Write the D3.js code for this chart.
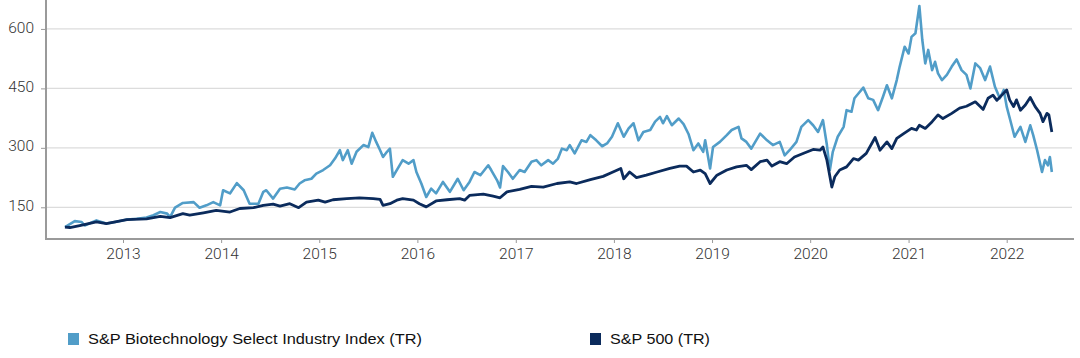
<!DOCTYPE html>
<html>
<head>
<meta charset="utf-8">
<script src="https://cdn.jsdelivr.net/npm/d3@7"></script>
<style>
  html, body { margin: 0; padding: 0; background: #ffffff; }
  svg { display: block; }
</style>
</head>
<body>
<svg id="chart" width="1080" height="358"></svg>
<script>
// ---- DATA (decimal years, index level, base 100) ----
const biotechTimes = [2012.41,2012.51,2012.58,2012.61,2012.73,2012.83,2012.92,2013.04,2013.14,2013.24,2013.31,2013.38,2013.45,2013.48,2013.53,2013.61,2013.72,2013.78,2013.85,2013.92,2013.99,2014.02,2014.09,2014.16,2014.23,2014.29,2014.38,2014.43,2014.46,2014.53,2014.60,2014.67,2014.75,2014.80,2014.85,2014.92,2014.97,2015.04,2015.11,2015.16,2015.21,2015.24,2015.29,2015.33,2015.38,2015.45,2015.50,2015.54,2015.58,2015.62,2015.65,2015.69,2015.72,2015.75,2015.79,2015.85,2015.91,2015.96,2015.99,2016.04,2016.09,2016.14,2016.19,2016.26,2016.33,2016.41,2016.47,2016.53,2016.58,2016.64,2016.72,2016.75,2016.81,2016.84,2016.87,2016.92,2016.97,2017.04,2017.09,2017.16,2017.21,2017.26,2017.33,2017.38,2017.43,2017.47,2017.52,2017.55,2017.60,2017.67,2017.72,2017.76,2017.82,2017.88,2017.93,2017.98,2018.04,2018.10,2018.15,2018.20,2018.25,2018.30,2018.37,2018.42,2018.47,2018.50,2018.54,2018.59,2018.66,2018.71,2018.76,2018.81,2018.86,2018.91,2018.93,2018.98,2019.01,2019.08,2019.15,2019.20,2019.27,2019.30,2019.35,2019.40,2019.49,2019.56,2019.62,2019.69,2019.74,2019.79,2019.86,2019.91,2019.98,2020.03,2020.08,2020.13,2020.17,2020.20,2020.23,2020.28,2020.34,2020.37,2020.42,2020.45,2020.49,2020.54,2020.59,2020.64,2020.69,2020.74,2020.78,2020.83,2020.88,2020.91,2020.96,2021.00,2021.03,2021.07,2021.11,2021.14,2021.17,2021.20,2021.24,2021.27,2021.30,2021.34,2021.39,2021.44,2021.49,2021.54,2021.59,2021.63,2021.68,2021.73,2021.78,2021.83,2021.88,2021.93,2021.97,2022.00,2022.05,2022.08,2022.14,2022.19,2022.24,2022.27,2022.31,2022.36,2022.39,2022.42,2022.44,2022.46];
const biotechValues = [100,115,113,104,117,109,113,119,121,124,130,138,134,125,149,161,163,149,155,163,155,193,185,211,193,159,159,189,193,172,197,200,195,210,218,222,235,244,256,273,294,269,294,260,290,307,302,338,315,294,277,290,298,227,244,269,260,269,239,210,176,197,185,214,189,222,193,214,239,231,256,244,218,200,254,239,222,244,239,265,269,256,269,260,273,298,294,307,286,319,315,332,319,304,311,328,362,328,349,362,319,340,345,366,378,362,380,357,374,360,335,294,311,290,319,248,302,315,332,345,353,324,315,298,336,319,307,315,281,294,315,353,370,357,340,370,307,244,290,328,353,395,391,425,437,452,425,421,395,429,458,425,471,505,555,538,580,589,658,572,513,547,496,517,488,471,484,505,523,496,484,450,513,501,471,505,454,425,446,404,357,328,353,315,357,332,294,239,269,256,277,239];

const spTimes = [2012.41,2012.46,2012.56,2012.73,2012.83,2013.04,2013.24,2013.38,2013.48,2013.61,2013.68,2013.82,2013.95,2014.09,2014.19,2014.33,2014.43,2014.53,2014.60,2014.70,2014.79,2014.87,2014.99,2015.06,2015.14,2015.28,2015.41,2015.55,2015.62,2015.65,2015.72,2015.79,2015.85,2015.96,2016.02,2016.09,2016.19,2016.30,2016.43,2016.48,2016.53,2016.67,2016.77,2016.84,2016.91,2017.04,2017.16,2017.28,2017.42,2017.55,2017.62,2017.76,2017.89,2017.99,2018.07,2018.10,2018.16,2018.23,2018.33,2018.44,2018.57,2018.67,2018.74,2018.81,2018.88,2018.93,2018.98,2019.05,2019.15,2019.25,2019.35,2019.40,2019.49,2019.56,2019.61,2019.69,2019.76,2019.84,2019.94,2020.03,2020.10,2020.13,2020.17,2020.22,2020.25,2020.30,2020.37,2020.44,2020.49,2020.57,2020.66,2020.71,2020.78,2020.83,2020.88,2020.95,2021.03,2021.08,2021.11,2021.17,2021.24,2021.30,2021.35,2021.44,2021.52,2021.59,2021.68,2021.73,2021.76,2021.81,2021.86,2021.90,2021.95,2022.00,2022.03,2022.07,2022.10,2022.14,2022.19,2022.24,2022.29,2022.34,2022.37,2022.41,2022.43,2022.46];
const spValues = [100,99,104,113,109,119,121,127,124,134,130,136,142,138,147,149,155,158,153,159,149,163,168,163,169,172,174,172,170,155,159,168,172,168,159,151,166,169,172,168,180,183,178,174,189,195,203,201,210,214,210,220,228,239,248,222,239,225,231,239,248,254,254,239,244,235,210,231,244,252,256,245,265,269,254,265,260,277,287,296,294,302,269,201,227,244,252,273,269,286,326,294,315,298,324,336,349,345,357,349,366,383,374,387,400,405,416,404,397,425,433,420,433,446,421,404,421,395,408,427,404,387,366,387,383,340];

const yTicks = [150, 300, 450, 600];
const xTickYears = [2013,2014,2015,2016,2017,2018,2019,2020,2021,2022];
const seriesNames = ["S&P Biotechnology Select Industry Index (TR)", "S&P 500 (TR)"];
const seriesColors = ["#519dc8", "#0b2b5c"];

// ---- helpers ----
function toDate(t) {
  const y = Math.floor(t);
  const start = new Date(y, 0, 1).getTime();
  const end = new Date(y + 1, 0, 1).getTime();
  return new Date(start + (t - y) * (end - start));
}

const svg = d3.select("#chart");
svg.append("rect").attr("width", 1080).attr("height", 358).attr("fill", "#fff");

const plotLeft = 46, plotRight = 1072, plotTop = 0, plotBottom = 239;

// time scale anchored so that year ticks fall at measured positions
const x0 = d3.scaleTime().domain([new Date(2013,0,1), new Date(2022,0,1)]).range([123, 1006.7]);
const x = d3.scaleTime().domain([x0.invert(plotLeft), x0.invert(plotRight)]).range([plotLeft, plotRight]);
const y = d3.scaleLinear().domain([70, 673]).range([plotBottom, plotTop]);

// gridlines
svg.append("g").selectAll("line").data(yTicks).join("line")
  .attr("x1", plotLeft).attr("x2", plotRight)
  .attr("y1", d => y(d)).attr("y2", d => y(d))
  .attr("stroke", "#dcdcdc").attr("stroke-width", 1.2);

// y axis
const yAxis = d3.axisLeft(y).tickValues(yTicks).tickSize(5).tickPadding(7).tickFormat(d3.format("d"));
const gy = svg.append("g").attr("transform", `translate(${plotLeft},0)`).call(yAxis);
gy.select(".domain").remove();
gy.selectAll(".tick line").attr("stroke", "#9a9a9a").attr("stroke-width", 1);
gy.selectAll(".tick text")
  .attr("font-family", "Roboto, 'Open Sans', sans-serif").attr("font-weight", 300)
  .attr("font-size", 15.5).attr("fill", "#333").attr("dy", "0.2em");

// x axis
const xAxis = d3.axisBottom(x).tickValues(xTickYears.map(yr => new Date(yr,0,1)))
  .tickFormat(d3.timeFormat("%Y")).tickSize(4).tickPadding(5);
const gx = svg.append("g").attr("transform", `translate(0,${plotBottom})`).call(xAxis);
gx.select(".domain").remove();
gx.selectAll(".tick line").attr("stroke", "#9a9a9a").attr("stroke-width", 1);
gx.selectAll(".tick text")
  .attr("font-family", "Roboto, 'Open Sans', sans-serif").attr("font-weight", 300)
  .attr("font-size", 15.5).attr("fill", "#333");

// axis frame lines
svg.append("line").attr("x1", plotLeft).attr("x2", plotLeft).attr("y1", 0).attr("y2", plotBottom + 1)
  .attr("stroke", "#9a9a9a").attr("stroke-width", 2);
svg.append("line").attr("x1", plotLeft - 1).attr("x2", plotRight + 2).attr("y1", plotBottom).attr("y2", plotBottom)
  .attr("stroke", "#9a9a9a").attr("stroke-width", 2);

// lines
const line = d3.line().x(d => x(d[0])).y(d => y(d[1]));
const biotech = biotechTimes.map((t, i) => [toDate(t), biotechValues[i]]);
const sp = spTimes.map((t, i) => [toDate(t), spValues[i]]);

svg.append("path").datum(biotech).attr("d", line)
  .attr("fill", "none").attr("stroke", seriesColors[0]).attr("stroke-width", 2.6)
  .attr("stroke-linejoin", "round");
svg.append("path").datum(sp).attr("d", line)
  .attr("fill", "none").attr("stroke", seriesColors[1]).attr("stroke-width", 2.8)
  .attr("stroke-linejoin", "round");

// legend
const legendItems = [
  { name: seriesNames[0], color: seriesColors[0], x: 68, len: 334 },
  { name: seriesNames[1], color: seriesColors[1], x: 590, len: 100 }
];
const lg = svg.append("g");
legendItems.forEach(it => {
  lg.append("rect").attr("x", it.x).attr("y", 333).attr("width", 11).attr("height", 12).attr("fill", it.color);
  lg.append("text").attr("x", it.x + 20).attr("y", 339).attr("dy", "0.35em")
    .attr("font-family", "'Liberation Sans', Arial, sans-serif").attr("font-size", 14.5)
    .attr("fill", "#111")
    .attr("textLength", it.len).attr("lengthAdjust", "spacingAndGlyphs")
    .text(it.name);
});
</script>
</body>
</html>
